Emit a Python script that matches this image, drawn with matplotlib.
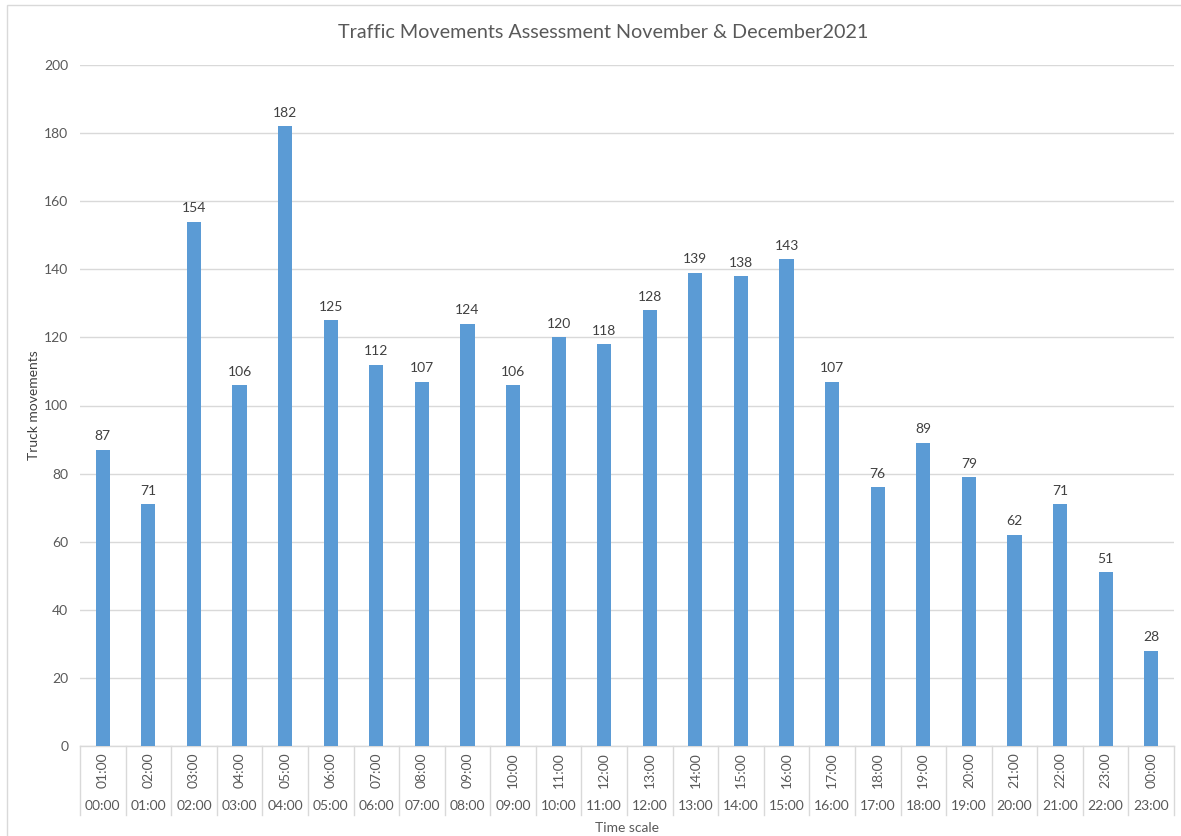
import matplotlib
matplotlib.use("Agg")
import matplotlib.pyplot as plt
from matplotlib.transforms import blended_transform_factory
from matplotlib.patches import Rectangle

values = [87, 71, 154, 106, 182, 125, 112, 107, 124, 106, 120, 118, 128, 139, 138, 143,
          107, 76, 89, 79, 62, 71, 51, 28]
inner_labels = ["01:00", "02:00", "03:00", "04:00", "05:00", "06:00", "07:00", "08:00",
                "09:00", "10:00", "11:00", "12:00", "13:00", "14:00", "15:00", "16:00",
                "17:00", "18:00", "19:00", "20:00", "21:00", "22:00", "23:00", "00:00"]
outer_labels = ["00:00", "01:00", "02:00", "03:00", "04:00", "05:00", "06:00", "07:00",
                "08:00", "09:00", "10:00", "11:00", "12:00", "13:00", "14:00", "15:00",
                "16:00", "17:00", "18:00", "19:00", "20:00", "21:00", "22:00", "23:00"]
yticks = [0, 20, 40, 60, 80, 100, 120, 140, 160, 180, 200]

plt.rcParams['font.family'] = ['Lato', 'DejaVu Sans']
W, H = 1181, 836
fig = plt.figure(figsize=(W / 100, H / 100), dpi=100)
fig.patch.set_facecolor('white')

def fy(px):
    return (H - px) / H

def fx(px):
    return px / W

# chart border
fig.patches.append(Rectangle((fx(7), -0.05), 1.2, fy(5) + 0.05, transform=fig.transFigure,
                             fill=False, edgecolor='#D9D9D9', linewidth=1.0))

ax = fig.add_axes([fx(80), fy(746), fx(1174) - fx(80), fy(65) - fy(746)])
x = list(range(len(values)))
ax.bar(x, values, width=0.31, color='#5B9BD5', zorder=3)
ax.set_xlim(-0.5, len(values) - 0.5)
ax.set_ylim(0, 200)
ax.set_yticks(yticks)
ax.set_yticklabels([str(t) for t in yticks], color='#595959', fontsize=10)
ax.tick_params(axis='y', length=0, pad=8.5)
ax.set_xticks([])
ax.yaxis.grid(True, color='#D9D9D9', linewidth=1.0, zorder=0)
ax.set_axisbelow(True)
for s in ['top', 'right', 'left']:
    ax.spines[s].set_visible(False)
ax.spines['bottom'].set_color('#D9D9D9')
ax.spines['bottom'].set_linewidth(1.0)

for xi, v in zip(x, values):
    ax.text(xi, v + 2.2, str(v), ha='center', va='bottom', fontsize=10, color='#404040')

tr = blended_transform_factory(ax.transData, fig.transFigure)
for i in range(len(values) + 1):
    ax.plot([i - 0.5, i - 0.5], [fy(746), fy(815)], transform=tr, color='#D9D9D9',
            linewidth=1.0, clip_on=False)
for xi, a, b in zip(x, inner_labels, outer_labels):
    ax.text(xi, fy(770), a, transform=tr, rotation=90, ha='center', va='center',
            fontsize=10, color='#595959')
    ax.text(xi, fy(806), b, transform=tr, ha='center', va='center',
            fontsize=10, color='#595959')

fig.text(fx(627), fy(828), "Time scale", ha='center', va='center', fontsize=10, color='#595959')
fig.text(fx(34), fy(405), "Truck movements", ha='center', va='center', rotation=90,
         fontsize=10, color='#404040')
fig.text(fx(603), fy(32), "Traffic Movements Assessment November & December2021",
         ha='center', va='center', fontsize=14.2, color='#595959')

fig.savefig("out.png", dpi=100, facecolor='white')
